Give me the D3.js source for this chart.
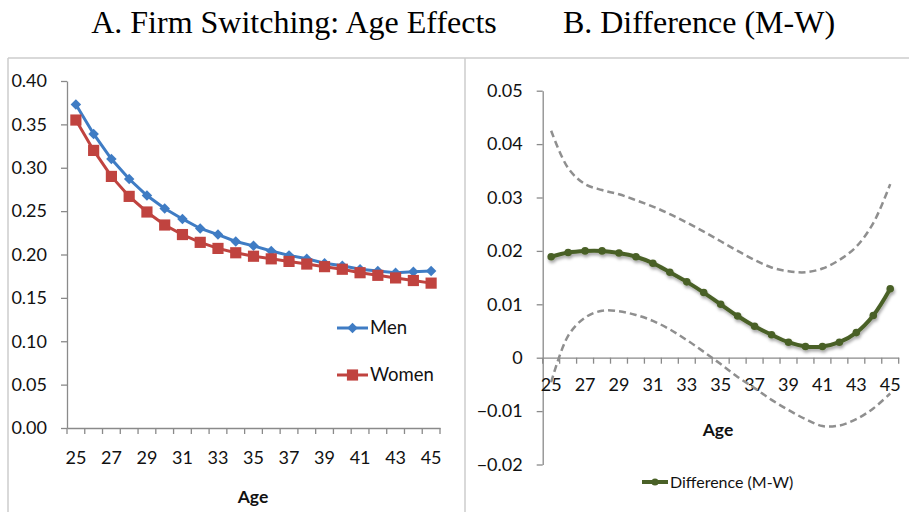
<!DOCTYPE html>
<meta charset="utf-8">
<style>
  body { margin: 0; background: #fff; }
  svg { display: block; }
  .title { font-family: "Liberation Serif", serif; font-size: 32px; fill: #000; }
  .axis text { font-family: Lato, sans-serif; font-size: 18px; fill: #111; }
  .axis path, .axis line { stroke: #8a8a8a; stroke-width: 1.3px; }
  .axisTitle { font-family: Lato, sans-serif; font-size: 17.5px; font-weight: bold; fill: #111; }
  .legend { font-family: Lato, sans-serif; font-size: 18.5px; fill: #111; }
  .frame { stroke: #cccccc; stroke-width: 1.5px; }
</style>
<body>
<svg width="909" height="512"></svg>
<script src="https://cdn.jsdelivr.net/npm/d3@7"></script>
<script>
// ---- data ----
var ages = d3.range(25, 46);
var men = [0.373, 0.339, 0.310, 0.287, 0.268, 0.253, 0.241, 0.230, 0.223, 0.215, 0.210,
           0.204, 0.199, 0.195, 0.190, 0.187, 0.183, 0.181, 0.179, 0.180, 0.181];
var women = [0.355, 0.320, 0.290, 0.267, 0.249, 0.234, 0.223, 0.214, 0.207, 0.202, 0.198,
             0.195, 0.192, 0.189, 0.186, 0.183, 0.179, 0.176, 0.173, 0.170, 0.167];
var diff = [0.0189, 0.0197, 0.0200, 0.0200, 0.0196, 0.0189, 0.0177, 0.0160, 0.0142, 0.0122, 0.0100,
            0.0078, 0.0059, 0.0043, 0.0029, 0.0021, 0.0021, 0.0029, 0.0047, 0.0079, 0.0129];
var upper = [0.0425, 0.0355, 0.0325, 0.0314, 0.0306, 0.0295, 0.0283, 0.0269, 0.0253, 0.0236, 0.0218,
             0.0200, 0.0183, 0.0169, 0.0162, 0.0160, 0.0167, 0.0183, 0.0208, 0.0252, 0.0325];
var lower = [-0.0046, 0.0041, 0.0075, 0.0088, 0.0087, 0.0080, 0.0069, 0.0053, 0.0033, 0.0011, -0.0012,
             -0.0036, -0.0057, -0.0079, -0.0098, -0.0115, -0.0128, -0.0127, -0.0115, -0.0095, -0.0067];
var leftTicks = d3.range(0, 0.401, 0.05);
var rightTicks = d3.range(-0.02, 0.0501, 0.01);
var ageLabels = ages.filter(function(d, i) { return i % 2 === 0; });

var svg = d3.select("svg");

// drop shadow for the difference line
var f = svg.append("defs").append("filter").attr("id", "shadow")
  .attr("x", "-10%").attr("y", "-10%").attr("width", "130%").attr("height", "150%");
f.append("feDropShadow").attr("dx", 1).attr("dy", 2.5).attr("stdDeviation", 1.5)
  .attr("flood-color", "#000").attr("flood-opacity", 0.35);

// titles + panel frames
svg.append("text").attr("class", "title").attr("x", 294).attr("y", 33)
  .attr("text-anchor", "middle").text("A. Firm Switching: Age Effects");
svg.append("text").attr("class", "title").attr("x", 699).attr("y", 33)
  .attr("text-anchor", "middle").text("B. Difference (M-W)");
svg.append("line").attr("class", "frame").attr("x1", 8).attr("x2", 909).attr("y1", 58).attr("y2", 58);
svg.append("line").attr("class", "frame").attr("x1", 8).attr("x2", 8).attr("y1", 58).attr("y2", 512);
svg.append("line").attr("class", "frame").attr("x1", 465).attr("x2", 465).attr("y1", 58).attr("y2", 512);

// draws band boundary ticks below an axis line
function bandTicks(g, x, y0) {
  var bounds = ages.map(function(a) { return x(a); }).concat([x.range()[1]]);
  g.selectAll(".bt").data(bounds).enter().append("line")
    .attr("class", "bt")
    .attr("x1", function(d) { return d; }).attr("x2", function(d) { return d; })
    .attr("y1", y0).attr("y2", y0 + 6)
    .attr("stroke", "#8a8a8a").attr("stroke-width", 1.3);
}

// ---------- panel A ----------
var xA = d3.scaleBand().domain(ages).range([67, 440]);
var yA = d3.scaleLinear().domain([0, 0.4]).range([428, 81]);
var cxA = function(a) { return xA(a) + xA.bandwidth() / 2; };

svg.append("g").attr("class", "axis").attr("transform", "translate(67,0)")
  .call(d3.axisLeft(yA).tickValues(leftTicks).tickFormat(d3.format(".2f")).tickSize(6).tickSizeOuter(0).tickPadding(14));
var gxA = svg.append("g").attr("class", "axis").attr("transform", "translate(0,428)")
  .call(d3.axisBottom(xA).tickValues(ageLabels).tickSize(0).tickSizeOuter(0).tickPadding(23));
bandTicks(gxA, xA, 0);
svg.append("text").attr("class", "axisTitle").attr("x", 253).attr("y", 503)
  .attr("text-anchor", "middle").text("Age");

var lineA = d3.line().x(function(d, i) { return cxA(ages[i]); }).y(function(d) { return yA(d); });

var seriesA = [
  { name: "Men", values: men, color: "#3f7cc4", symbol: d3.symbolDiamond2, size: 70 },
  { name: "Women", values: women, color: "#c0433f", symbol: d3.symbolSquare, size: 125 }
];

seriesA.forEach(function(s) {
  svg.append("path").datum(s.values).attr("d", lineA)
    .attr("fill", "none").attr("stroke", s.color).attr("stroke-width", 3);
  svg.append("g").selectAll("path").data(s.values).enter().append("path")
    .attr("d", d3.symbol().type(s.symbol).size(s.size))
    .attr("transform", function(d, i) { return "translate(" + cxA(ages[i]) + "," + yA(d) + ")"; })
    .attr("fill", s.color);
});

// legend A
var legA = svg.append("g").selectAll("g").data(seriesA).enter().append("g")
  .attr("transform", function(d, i) { return "translate(337," + (328 + i * 47) + ")"; });
legA.append("line").attr("x1", 0).attr("x2", 31).attr("y1", 0).attr("y2", 0)
  .attr("stroke", function(d) { return d.color; }).attr("stroke-width", 3);
legA.append("path").attr("transform", "translate(15.5,0)")
  .attr("d", function(d) { return d3.symbol().type(d.symbol).size(d.size)(); })
  .attr("fill", function(d) { return d.color; });
legA.append("text").attr("class", "legend").attr("x", 33).attr("y", 0).attr("dy", "0.35em")
  .text(function(d) { return d.name; });

// ---------- panel B ----------
var xB = d3.scaleBand().domain(ages).range([542.7, 898.7]);
var yB = d3.scaleLinear().domain([-0.02, 0.05]).range([464.5, 90.7]);
var cxB = function(a) { return xB(a) + xB.bandwidth() / 2; };

svg.append("g").attr("class", "axis").attr("transform", "translate(542.7,0)")
  .call(d3.axisLeft(yB).tickValues(rightTicks)
    .tickFormat(function(d) { return Math.abs(d) < 1e-9 ? "0" : d3.format(".2f")(d); })
    .tickSize(6).tickSizeOuter(0).tickPadding(14));
var gxB = svg.append("g").attr("class", "axis").attr("transform", "translate(0," + yB(0) + ")")
  .call(d3.axisBottom(xB).tickValues(ageLabels).tickSize(0).tickSizeOuter(0).tickPadding(21));
bandTicks(gxB, xB, 0);
svg.append("text").attr("class", "axisTitle").attr("x", 718).attr("y", 436)
  .attr("text-anchor", "middle").text("Age");

var lineB = d3.line().curve(d3.curveCatmullRom.alpha(0.5))
  .x(function(d, i) { return cxB(ages[i]); }).y(function(d) { return yB(d); });

[upper, lower].forEach(function(band) {
  svg.append("path").datum(band).attr("d", lineB)
    .attr("fill", "none").attr("stroke", "#8f8f8f").attr("stroke-width", 2.5)
    .attr("stroke-dasharray", "7,4");
});

var diffG = svg.append("g").attr("filter", "url(#shadow)");
diffG.append("path").datum(diff).attr("d", lineB)
  .attr("fill", "none").attr("stroke", "#4a6127").attr("stroke-width", 4);
diffG.selectAll("circle").data(diff).enter().append("circle")
  .attr("cx", function(d, i) { return cxB(ages[i]); })
  .attr("cy", function(d) { return yB(d); })
  .attr("r", 3.8).attr("fill", "#4a6127");

// legend B
var legB = svg.append("g").attr("transform", "translate(642,482)");
legB.append("line").attr("x1", 0).attr("x2", 26).attr("y1", 0).attr("y2", 0)
  .attr("stroke", "#4a6127").attr("stroke-width", 4);
legB.append("circle").attr("cx", 13).attr("cy", 0).attr("r", 3.6).attr("fill", "#4a6127");
legB.append("text").attr("class", "legend").attr("x", 28).attr("y", 0).attr("dy", "0.35em")
  .style("font-size", "16px").text("Difference (M-W)");
</script>
</body>
